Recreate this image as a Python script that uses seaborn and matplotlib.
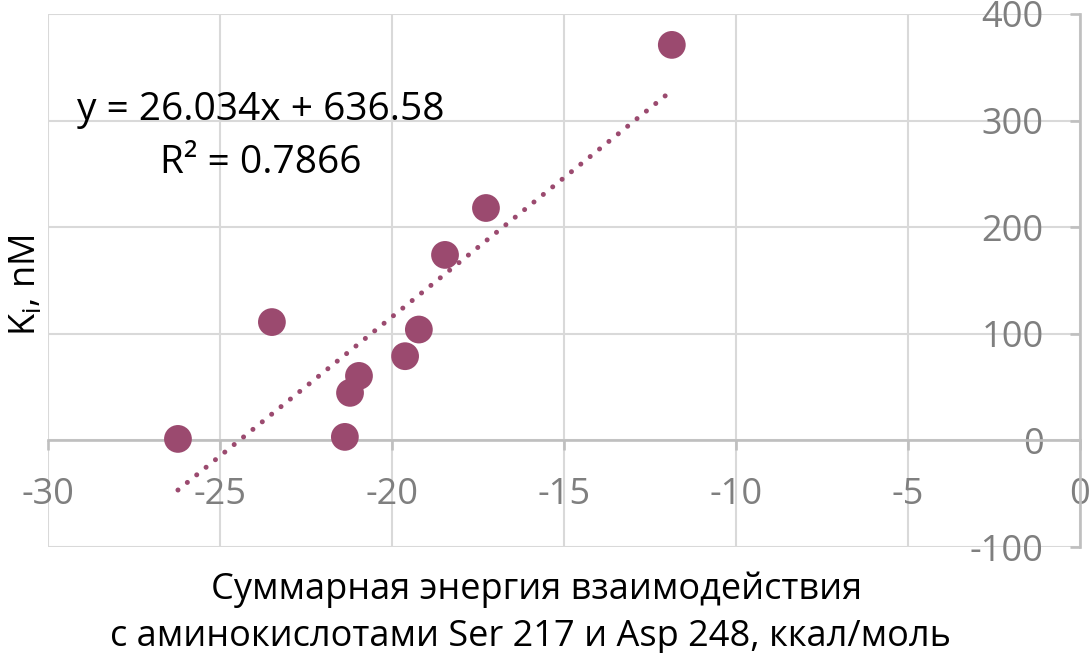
import numpy as np
import pandas as pd
import matplotlib
matplotlib.use("Agg")
import matplotlib.pyplot as plt
import seaborn as sns

# Data
energy = [-11.86, -17.26, -18.45, -23.48, -19.21, -19.61, -20.95, -21.21, -26.21, -21.36]
ki = [371, 218, 174, 111, 104, 79, 60.5, 44.6, 1.4, 3.3]
x_ticks = [-30, -25, -20, -15, -10, -5, 0]
y_ticks = [-100, 0, 100, 200, 300, 400]
eq_text = "y = 26.034x + 636.58"
r2_text = "R² = 0.7866"
x_label_1 = "Суммарная энергия взаимодействия"
x_label_2 = "с аминокислотами Ser 217 и Asp 248, ккал/моль"
y_label = r"K$_\mathregular{i}$, nM"

df = pd.DataFrame({"energy": energy, "ki": ki})

sns.set_theme(style="white")
plt.rcParams['font.family'] = ['Open Sans', 'DejaVu Sans']

color = "#9B4A6F"
grid_c = "#d9d9d9"
axis_c = "#bfbfbf"
tick_c = "#7f7f7f"

fig = plt.figure(figsize=(10.9, 6.53), dpi=100)
ax = fig.add_axes([0.0436, 0.1623, 0.9472, 0.8163])

sns.regplot(data=df, x="energy", y="ki", ax=ax, scatter=False, ci=None,
            line_kws=dict(color=color, lw=3.6, linestyle=(0, (0.01, 2.4)),
                          dash_capstyle="round", zorder=3))
sns.scatterplot(data=df, x="energy", y="ki", ax=ax, color=color, s=400,
                edgecolor="none", zorder=4)

ax.set_xlim(-30, 0)
ax.set_ylim(-100, 400)
ax.set_xticks(x_ticks)
ax.set_yticks(y_ticks)
ax.set_xticklabels([str(v) for v in x_ticks])
ax.set_yticklabels([str(v) for v in y_ticks])

ax.grid(True, color=grid_c, lw=1.5, zorder=0)
for gl in ax.get_xgridlines() + ax.get_ygridlines():
    gl.set_clip_on(False)
ax.set_axisbelow(True)

ax.spines['left'].set_position(('data', 0))
ax.spines['bottom'].set_position(('data', 0))
ax.spines['top'].set_visible(False)
ax.spines['right'].set_visible(False)
for s in ('left', 'bottom'):
    ax.spines[s].set_color(axis_c)
    ax.spines[s].set_linewidth(1.9)
    ax.spines[s].set_zorder(1)

ax.tick_params(axis='x', direction='out', length=7, width=1.9, color=axis_c,
               labelcolor=tick_c, labelsize=26, pad=19, bottom=True)
ax.tick_params(axis='y', direction='out', length=7, width=1.9, color=axis_c,
               labelcolor=tick_c, labelsize=26, pad=19, left=True)

ax.set_xlabel("")
ax.set_ylabel("")
fig.text(0.492, 0.0965, x_label_1, ha='center', va='center', fontsize=26,
         color='black')
fig.text(0.487, 0.0245, x_label_2, ha='center', va='center', fontsize=26,
         color='black')
fig.text(0.024, 0.5635, y_label, ha='center', va='center', rotation=90,
         fontsize=26, color='black')

fig.text(0.2394, 0.8315, eq_text, ha='center', va='center', fontsize=28,
         color='black')
fig.text(0.2394, 0.75, r2_text, ha='center', va='center', fontsize=28,
         color='black')

fig.savefig("out.png", dpi=100)
